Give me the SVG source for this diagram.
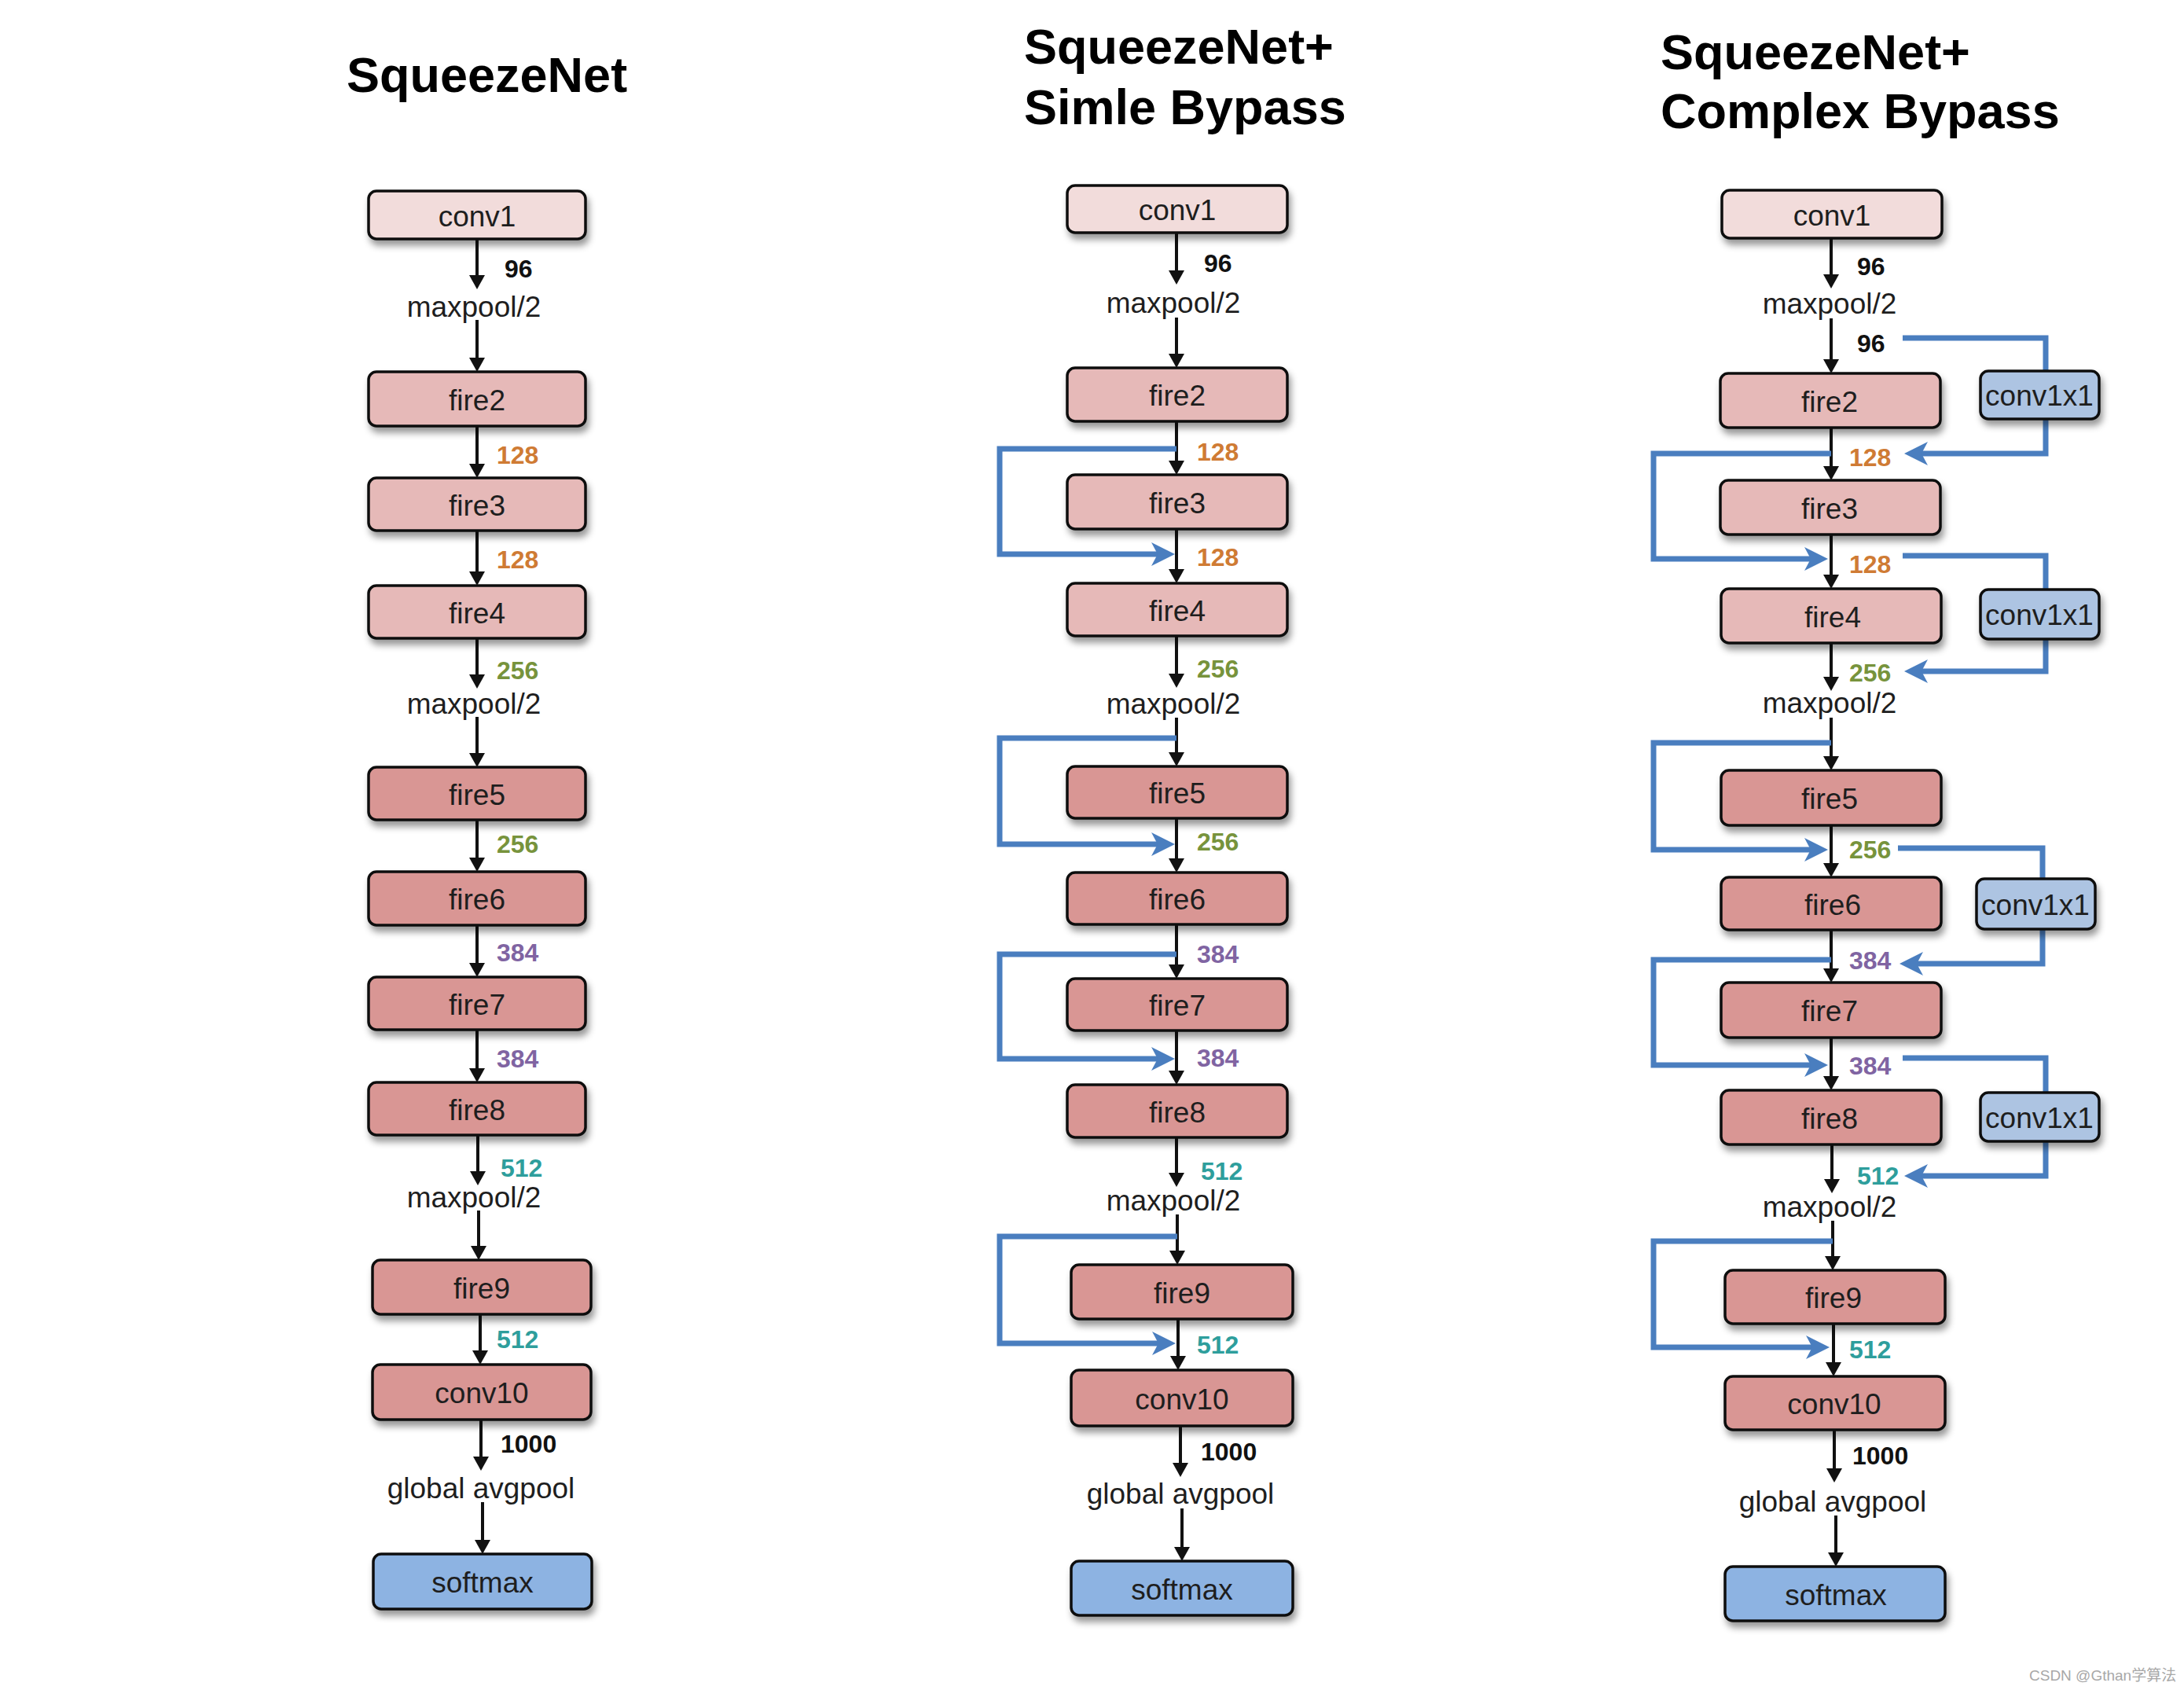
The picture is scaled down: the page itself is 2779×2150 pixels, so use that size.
<svg xmlns="http://www.w3.org/2000/svg" width="2779" height="2150" viewBox="0 0 2779 2150">
<defs>
<style>
.box{stroke:#111;stroke-width:3.5;filter:url(#sh)}
.c1{fill:#f2dcdb}.f1{fill:#e6b9b8}.f2{fill:#d99694}.sm{fill:#8db3e2}.cx{fill:#adc4e2}
.nl{font-family:"Liberation Sans",Arial,sans-serif;font-size:37px;fill:#1e1e1e;text-anchor:middle}
.pl{font-family:"Liberation Sans",Arial,sans-serif;font-size:37px;fill:#1e1e1e;text-anchor:middle}
.num{font-family:"Liberation Sans",Arial,sans-serif;font-size:32px;font-weight:bold}
.k{fill:#111}.o{fill:#cf7b34}.g{fill:#77933c}.p{fill:#8064a2}.t{fill:#2e9e9c}
.title{font-family:"Liberation Sans",Arial,sans-serif;font-size:63px;font-weight:bold;fill:#000}
.blk{stroke:#111;stroke-width:4;fill:none;marker-end:url(#ah)}
.blu{stroke:#4a7ebf;stroke-width:7;fill:none;stroke-linejoin:miter}
.bla{marker-end:url(#bh)}
</style>
<filter id="sh" x="-10%" y="-20%" width="125%" height="160%">
<feDropShadow dx="3" dy="7" stdDeviation="4" flood-color="#000" flood-opacity="0.4"/>
</filter>
<marker id="ah" viewBox="0 0 18 20" refX="8" refY="10" markerWidth="18" markerHeight="20" markerUnits="userSpaceOnUse" orient="auto">
<path d="M0,0 L18,10 L0,20 z" fill="#111"/>
</marker>
<marker id="bh" viewBox="0 0 30 30" refX="10" refY="15" markerWidth="30" markerHeight="30" markerUnits="userSpaceOnUse" orient="auto">
<path d="M0,0 L30,15 L0,30 L8,15 z" fill="#4a7ebf"/>
</marker>
</defs>
<rect width="2779" height="2150" fill="#fff"/>

<g id="titles">
<text class="title" x="441" y="117">SqueezeNet</text>
<text class="title" x="1303" y="81">SqueezeNet+</text>
<text class="title" x="1303" y="158">Simle Bypass</text>
<text class="title" x="2113" y="88">SqueezeNet+</text>
<text class="title" x="2113" y="163">Complex Bypass</text>
</g>

<g id="connectors">
<!-- column 1 -->
<path class="blk" d="M607,304 V358"/>
<path class="blk" d="M607,407 V463"/>
<path class="blk" d="M607,542 V598"/>
<path class="blk" d="M607,675 V735"/>
<path class="blk" d="M607,812 V866"/>
<path class="blk" d="M607,912 V966"/>
<path class="blk" d="M607,1043 V1099"/>
<path class="blk" d="M607,1177 V1233"/>
<path class="blk" d="M607,1310 V1367"/>
<path class="blk" d="M608,1444 V1498"/>
<path class="blk" d="M609,1540 V1593"/>
<path class="blk" d="M611,1672 V1726"/>
<path class="blk" d="M612,1806 V1861"/>
<path class="blk" d="M614,1911 V1967"/>
<!-- column 2 -->
<path class="blk" d="M1497,296 V352"/>
<path class="blk" d="M1497,404 V458"/>
<path class="blk" d="M1497,536 V594"/>
<path class="blk" d="M1497,673 V732"/>
<path class="blk" d="M1497,809 V865"/>
<path class="blk" d="M1497,913 V965"/>
<path class="blk" d="M1497,1041 V1100"/>
<path class="blk" d="M1497,1176 V1235"/>
<path class="blk" d="M1497,1311 V1370"/>
<path class="blk" d="M1497,1447 V1500"/>
<path class="blk" d="M1498,1545 V1599"/>
<path class="blk" d="M1499,1678 V1733"/>
<path class="blk" d="M1502,1814 V1869"/>
<path class="blk" d="M1504,1919 V1976"/>
<path class="blu bla" d="M1497,571 H1272 V705 H1475"/>
<path class="blu bla" d="M1497,939 H1272 V1074 H1475"/>
<path class="blu bla" d="M1497,1214 H1272 V1347 H1475"/>
<path class="blu bla" d="M1498,1573 H1272 V1709 H1476"/>
<!-- column 3 -->
<path class="blk" d="M2330,303 V357"/>
<path class="blk" d="M2330,405 V465"/>
<path class="blk" d="M2330,544 V601"/>
<path class="blk" d="M2330,680 V739"/>
<path class="blk" d="M2330,818 V869"/>
<path class="blk" d="M2330,913 V970"/>
<path class="blk" d="M2330,1050 V1106"/>
<path class="blk" d="M2330,1183 V1240"/>
<path class="blk" d="M2330,1320 V1377"/>
<path class="blk" d="M2331,1456 V1508"/>
<path class="blk" d="M2332,1553 V1606"/>
<path class="blk" d="M2333,1684 V1741"/>
<path class="blk" d="M2334,1819 V1876"/>
<path class="blk" d="M2336,1928 V1983"/>
<path class="blu bla" d="M2330,577 H2104 V711 H2306"/>
<path class="blu bla" d="M2330,945 H2104 V1081 H2306"/>
<path class="blu bla" d="M2330,1221 H2104 V1355 H2306"/>
<path class="blu bla" d="M2332,1579 H2104 V1714 H2308"/>
<path class="blu" d="M2421,430 H2603 V472"/>
<path class="blu bla" d="M2603,533 V577 H2443"/>
<path class="blu" d="M2421,707 H2603 V750"/>
<path class="blu bla" d="M2603,813 V854 H2443"/>
<path class="blu" d="M2415,1079 H2599 V1118"/>
<path class="blu bla" d="M2599,1182 V1226 H2437"/>
<path class="blu" d="M2421,1346 H2603 V1390"/>
<path class="blu bla" d="M2603,1452 V1496 H2443"/>
</g>

<g id="edge-labels">
<text class="num k" x="642" y="353">96</text>
<text class="pl" x="603" y="403">maxpool/2</text>
<text class="num o" x="632" y="590">128</text>
<text class="num o" x="632" y="723">128</text>
<text class="num g" x="632" y="864">256</text>
<text class="pl" x="603" y="908">maxpool/2</text>
<text class="num g" x="632" y="1085">256</text>
<text class="num p" x="632" y="1223">384</text>
<text class="num p" x="632" y="1358">384</text>
<text class="num t" x="637" y="1497">512</text>
<text class="pl" x="603" y="1536">maxpool/2</text>
<text class="num t" x="632" y="1715">512</text>
<text class="num k" x="637" y="1848">1000</text>
<text class="pl" x="612" y="1906">global avgpool</text>

<text class="num k" x="1532" y="346">96</text>
<text class="pl" x="1493" y="398">maxpool/2</text>
<text class="num o" x="1523" y="586">128</text>
<text class="num o" x="1523" y="720">128</text>
<text class="num g" x="1523" y="862">256</text>
<text class="pl" x="1493" y="908">maxpool/2</text>
<text class="num g" x="1523" y="1082">256</text>
<text class="num p" x="1523" y="1225">384</text>
<text class="num p" x="1523" y="1357">384</text>
<text class="num t" x="1528" y="1501">512</text>
<text class="pl" x="1493" y="1540">maxpool/2</text>
<text class="num t" x="1523" y="1722">512</text>
<text class="num k" x="1528" y="1858">1000</text>
<text class="pl" x="1502" y="1913">global avgpool</text>

<text class="num k" x="2363" y="350">96</text>
<text class="pl" x="2328" y="399">maxpool/2</text>
<text class="num k" x="2363" y="448">96</text>
<text class="num o" x="2353" y="593">128</text>
<text class="num o" x="2353" y="729">128</text>
<text class="num g" x="2353" y="867">256</text>
<text class="pl" x="2328" y="907">maxpool/2</text>
<text class="num g" x="2353" y="1092">256</text>
<text class="num p" x="2353" y="1233">384</text>
<text class="num p" x="2353" y="1367">384</text>
<text class="num t" x="2363" y="1507">512</text>
<text class="pl" x="2328" y="1548">maxpool/2</text>
<text class="num t" x="2353" y="1728">512</text>
<text class="num k" x="2357" y="1863">1000</text>
<text class="pl" x="2332" y="1923">global avgpool</text>
</g>

<!-- column 1 nodes -->
<g id="c1-conv1"><rect class="box c1" x="469" y="243" width="276" height="61" rx="10"/><text class="nl" x="607" y="288">conv1</text></g>
<g id="c1-fire2"><rect class="box f1" x="469" y="473" width="276" height="69" rx="10"/><text class="nl" x="607" y="522">fire2</text></g>
<g id="c1-fire3"><rect class="box f1" x="469" y="608" width="276" height="67" rx="10"/><text class="nl" x="607" y="656">fire3</text></g>
<g id="c1-fire4"><rect class="box f1" x="469" y="745" width="276" height="67" rx="10"/><text class="nl" x="607" y="793">fire4</text></g>
<g id="c1-fire5"><rect class="box f2" x="469" y="976" width="276" height="67" rx="10"/><text class="nl" x="607" y="1024">fire5</text></g>
<g id="c1-fire6"><rect class="box f2" x="469" y="1109" width="276" height="68" rx="10"/><text class="nl" x="607" y="1157">fire6</text></g>
<g id="c1-fire7"><rect class="box f2" x="469" y="1243" width="276" height="67" rx="10"/><text class="nl" x="607" y="1291">fire7</text></g>
<g id="c1-fire8"><rect class="box f2" x="469" y="1377" width="276" height="67" rx="10"/><text class="nl" x="607" y="1425">fire8</text></g>
<g id="c1-fire9"><rect class="box f2" x="474" y="1603" width="278" height="69" rx="10"/><text class="nl" x="613" y="1652">fire9</text></g>
<g id="c1-conv10"><rect class="box f2" x="474" y="1736" width="278" height="70" rx="10"/><text class="nl" x="613" y="1785">conv10</text></g>
<g id="c1-softmax"><rect class="box sm" x="475" y="1977" width="278" height="70" rx="10"/><text class="nl" x="614" y="2026">softmax</text></g>

<!-- column 2 nodes -->
<g id="c2-conv1"><rect class="box c1" x="1358" y="236" width="280" height="60" rx="10"/><text class="nl" x="1498" y="280">conv1</text></g>
<g id="c2-fire2"><rect class="box f1" x="1358" y="468" width="280" height="68" rx="10"/><text class="nl" x="1498" y="516">fire2</text></g>
<g id="c2-fire3"><rect class="box f1" x="1358" y="604" width="280" height="69" rx="10"/><text class="nl" x="1498" y="653">fire3</text></g>
<g id="c2-fire4"><rect class="box f1" x="1358" y="742" width="280" height="67" rx="10"/><text class="nl" x="1498" y="790">fire4</text></g>
<g id="c2-fire5"><rect class="box f2" x="1358" y="975" width="280" height="66" rx="10"/><text class="nl" x="1498" y="1022">fire5</text></g>
<g id="c2-fire6"><rect class="box f2" x="1358" y="1110" width="280" height="66" rx="10"/><text class="nl" x="1498" y="1157">fire6</text></g>
<g id="c2-fire7"><rect class="box f2" x="1358" y="1245" width="280" height="66" rx="10"/><text class="nl" x="1498" y="1292">fire7</text></g>
<g id="c2-fire8"><rect class="box f2" x="1358" y="1380" width="280" height="67" rx="10"/><text class="nl" x="1498" y="1428">fire8</text></g>
<g id="c2-fire9"><rect class="box f2" x="1363" y="1609" width="282" height="69" rx="10"/><text class="nl" x="1504" y="1658">fire9</text></g>
<g id="c2-conv10"><rect class="box f2" x="1363" y="1743" width="282" height="71" rx="10"/><text class="nl" x="1504" y="1793">conv10</text></g>
<g id="c2-softmax"><rect class="box sm" x="1363" y="1986" width="282" height="69" rx="10"/><text class="nl" x="1504" y="2035">softmax</text></g>

<!-- column 3 nodes -->
<g id="c3-conv1"><rect class="box c1" x="2191" y="242" width="280" height="61" rx="10"/><text class="nl" x="2331" y="287">conv1</text></g>
<g id="c3-fire2"><rect class="box f1" x="2189" y="475" width="280" height="69" rx="10"/><text class="nl" x="2328" y="524">fire2</text></g>
<g id="c3-fire3"><rect class="box f1" x="2189" y="611" width="280" height="69" rx="10"/><text class="nl" x="2328" y="660">fire3</text></g>
<g id="c3-fire4"><rect class="box f1" x="2190" y="749" width="280" height="69" rx="10"/><text class="nl" x="2332" y="798">fire4</text></g>
<g id="c3-fire5"><rect class="box f2" x="2190" y="980" width="280" height="70" rx="10"/><text class="nl" x="2328" y="1029">fire5</text></g>
<g id="c3-fire6"><rect class="box f2" x="2190" y="1116" width="280" height="67" rx="10"/><text class="nl" x="2332" y="1164">fire6</text></g>
<g id="c3-fire7"><rect class="box f2" x="2190" y="1250" width="280" height="70" rx="10"/><text class="nl" x="2328" y="1299">fire7</text></g>
<g id="c3-fire8"><rect class="box f2" x="2190" y="1387" width="280" height="69" rx="10"/><text class="nl" x="2328" y="1436">fire8</text></g>
<g id="c3-fire9"><rect class="box f2" x="2195" y="1616" width="280" height="68" rx="10"/><text class="nl" x="2333" y="1664">fire9</text></g>
<g id="c3-conv10"><rect class="box f2" x="2195" y="1751" width="280" height="68" rx="10"/><text class="nl" x="2334" y="1799">conv10</text></g>
<g id="c3-softmax"><rect class="box sm" x="2195" y="1993" width="280" height="69" rx="10"/><text class="nl" x="2336" y="2042">softmax</text></g>
<g id="c3-conv1x1-a"><rect class="box cx" x="2520" y="472" width="151" height="61" rx="10"/><text class="nl" x="2595" y="516">conv1x1</text></g>
<g id="c3-conv1x1-b"><rect class="box cx" x="2520" y="750" width="151" height="63" rx="10"/><text class="nl" x="2595" y="795">conv1x1</text></g>
<g id="c3-conv1x1-c"><rect class="box cx" x="2515" y="1118" width="151" height="64" rx="10"/><text class="nl" x="2590" y="1164">conv1x1</text></g>
<g id="c3-conv1x1-d"><rect class="box cx" x="2520" y="1390" width="151" height="62" rx="10"/><text class="nl" x="2595" y="1435">conv1x1</text></g>

<text x="2582" y="2138" font-family="'Liberation Sans','Noto Sans CJK SC',sans-serif" font-size="19" fill="#a8a8a8">CSDN @Gthan学算法</text>
</svg>
